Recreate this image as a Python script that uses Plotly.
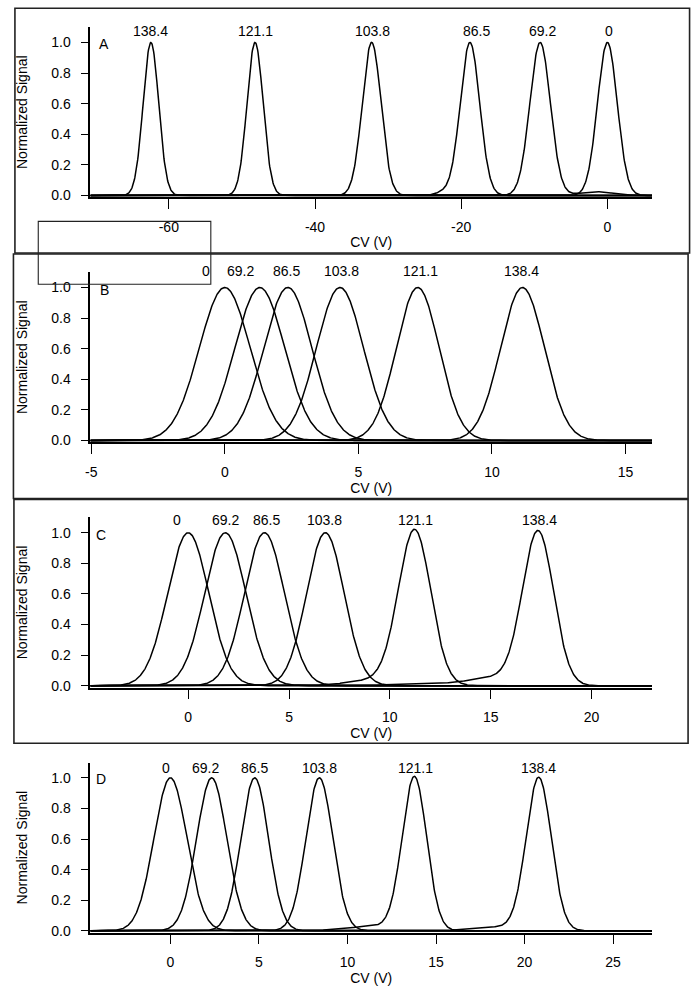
import numpy as np
import plotly.graph_objects as go

W, H = 699, 1003

# Dispersion-field labels of the six traces (same order in every panel)
field_labels = ["0", "69.2", "86.5", "103.8", "121.1", "138.4"]

# Panel A: peak CV (V) and peak width (sigma, V)
cv_peak_A = [0.0, -9.2, -18.8, -32.25, -48.2, -62.45]
sigma_A = [1.35, 1.4, 1.33, 1.28, 1.1, 1.06]
# Panel B
cv_peak_B = [0.0, 1.31, 2.36, 4.31, 7.22, 11.14]
sigma_B = [0.95, 0.93, 0.9, 0.88, 0.8, 0.82]
# Panel C
cv_peak_C = [0.0, 1.84, 3.78, 6.8, 11.23, 17.35]
sigma_C = [1.02, 1.02, 0.99, 0.93, 0.8, 0.77]
# Panel D
cv_peak_D = [0.0, 2.33, 4.76, 8.41, 13.78, 20.8]
sigma_D = [0.93, 0.85, 0.78, 0.76, 0.69, 0.71]

# Minor shoulders / tails: (trace index, CV centre, sigma, relative height)
extra_A = [(2, -22.5, 1.0, 0.02), (1, -1.5, 2.2, 0.025)]
extra_B = []
extra_C = [(4, 9.6, 1.5, 0.04), (5, 15.3, 1.3, 0.05), (5, 12.0, 2.0, 0.012)]
extra_D = [(4, 11.5, 1.5, 0.03), (5, 18.3, 1.3, 0.025)]

# Where the peak labels sit (CV, V)
label_cv_A = [0.2, -8.9, -17.9, -32.2, -48.2, -62.5]
label_cv_B = [-0.71, 0.59, 2.3, 4.35, 7.33, 11.12]
label_cv_C = [-0.54, 1.84, 3.89, 6.76, 11.27, 17.42]
label_cv_D = [-0.26, 1.98, 4.76, 8.41, 13.86, 20.8]

# Tick values / labels
y_ticks = [0.0, 0.2, 0.4, 0.6, 0.8, 1.0]
y_tick_text = ["0.0", "0.2", "0.4", "0.6", "0.8", "1.0"]
x_ticks_A = [-60, -40, -20, 0]
x_ticks_B = [-5, 0, 5, 10, 15]
x_ticks_C = [0, 5, 10, 15, 20]
x_ticks_D = [0, 5, 10, 15, 20, 25]


def pxx(px):
    return px / W


def pyy(py):
    return 1 - py / H


panels = [
    dict(letter="A", cv=cv_peak_A, sig=sigma_A, extra=extra_A, lab=label_cv_A,
         xr=[-70.73, 6.11], xt=x_ticks_A, ybot=198.5, ytop=27.3, lab_py=31,
         let_px=(100, 44)),
    dict(letter="B", cv=cv_peak_B, sig=sigma_B, extra=extra_B, lab=label_cv_B,
         xr=[-5.03, 15.99], xt=x_ticks_B, ybot=445.0, ytop=273.8, lab_py=273,
         let_px=(100, 292)),
    dict(letter="C", cv=cv_peak_C, sig=sigma_C, extra=extra_C, lab=label_cv_C,
         xr=[-4.85, 23.0], xt=x_ticks_C, ybot=691.7, ytop=520.5, lab_py=523,
         let_px=(97, 538)),
    dict(letter="D", cv=cv_peak_D, sig=sigma_D, extra=extra_D, lab=label_cv_D,
         xr=[-4.52, 27.2], xt=x_ticks_D, ybot=938.3, ytop=767.1, lab_py=773,
         let_px=(97, 784)),
]

FONT = "Liberation Sans, Arial, sans-serif"
fig = go.Figure()
annotations = []
layout_axes = {}
YR = [-0.012, 1.1]

for i, p in enumerate(panels):
    n = i + 1
    xa = "x" if n == 1 else f"x{n}"
    ya = "y" if n == 1 else f"y{n}"
    xs = np.linspace(p["xr"][0], p["xr"][1], 1200)
    for k, (c, s) in enumerate(zip(p["cv"], p["sig"])):
        y = np.exp(-((xs - c) ** 2) / (2 * s * s))
        for (idx, ec, es, ea) in p["extra"]:
            if idx == k:
                y = y + ea * np.exp(-((xs - ec) ** 2) / (2 * es * es))
        fig.add_trace(go.Scatter(x=xs, y=y, mode="lines", xaxis=xa, yaxis=ya,
                                 line=dict(color="black", width=1.5),
                                 name=f"{p['letter']} {field_labels[k]}",
                                 showlegend=False, hoverinfo="skip"))
    xkey = "xaxis" if n == 1 else f"xaxis{n}"
    ykey = "yaxis" if n == 1 else f"yaxis{n}"
    layout_axes[xkey] = dict(
        domain=[pxx(86), pxx(651.7)], anchor=ya, range=p["xr"],
        tickvals=p["xt"], ticktext=[str(v) for v in p["xt"]],
        showgrid=False, zeroline=False,
        showline=True, linecolor="black", linewidth=1.6,
        ticks="outside", ticklen=10, tickwidth=1.3, tickcolor="black",
        ticklabelstandoff=6,
        tickfont=dict(family=FONT, size=14, color="black"),
        title=dict(text="CV (V)", standoff=3,
                   font=dict(family=FONT, size=14, color="black")),
    )
    layout_axes[ykey] = dict(
        domain=[pyy(p["ybot"]), pyy(p["ytop"])], anchor=xa, range=YR,
        tickvals=y_ticks, ticktext=y_tick_text, showgrid=False, zeroline=False,
        showline=True, linecolor="black", linewidth=1.6,
        ticks="outside", ticklen=8, tickwidth=1.3, tickcolor="black",
        ticklabelstandoff=7,
        tickfont=dict(family=FONT, size=14, color="black"),
        title=dict(text="Normalized Signal", standoff=20,
                   font=dict(family=FONT, size=14, color="black")),
    )
    for k, lx in enumerate(p["lab"]):
        annotations.append(dict(x=lx, y=pyy(p["lab_py"]), xref=xa, yref="paper",
                                text=field_labels[k], showarrow=False,
                                xanchor="center", yanchor="middle",
                                font=dict(family=FONT, size=14, color="black")))
    annotations.append(dict(x=pxx(p["let_px"][0]), y=pyy(p["let_px"][1]),
                            xref="paper", yref="paper", text=p["letter"],
                            showarrow=False, xanchor="center", yanchor="middle",
                            font=dict(family=FONT, size=14, color="black")))

shapes = []
boxes = [(10, 8.3, 689.5, 254.5), (8.5, 255.5, 688, 501.5), (9, 502.5, 688, 747.7)]
for (x0, y0, x1, y1) in boxes:
    shapes.append(dict(type="rect", xref="paper", yref="paper",
                       x0=pxx(x0), x1=pxx(x1), y0=pyy(y1), y1=pyy(y0),
                       line=dict(color="#222222", width=1.6), fillcolor="rgba(0,0,0,0)"))
shapes.append(dict(type="rect", xref="paper", yref="paper",
                   x0=pxx(33.5), x1=pxx(207.3), y0=pyy(286), y1=pyy(222.7),
                   line=dict(color="#222222", width=1.1), fillcolor="rgba(0,0,0,0)"))

fig.update_layout(
    width=W, height=H, margin=dict(l=0, r=0, t=0, b=0),
    paper_bgcolor="white", plot_bgcolor="white",
    showlegend=False, annotations=annotations, shapes=shapes,
    font=dict(family=FONT, size=14, color="black"),
    **layout_axes,
)

fig.write_html("out.html",
               config={"displayModeBar": False},
               post_script="document.body.style.margin='0';"
                           "document.body.style.overflow='hidden';")
